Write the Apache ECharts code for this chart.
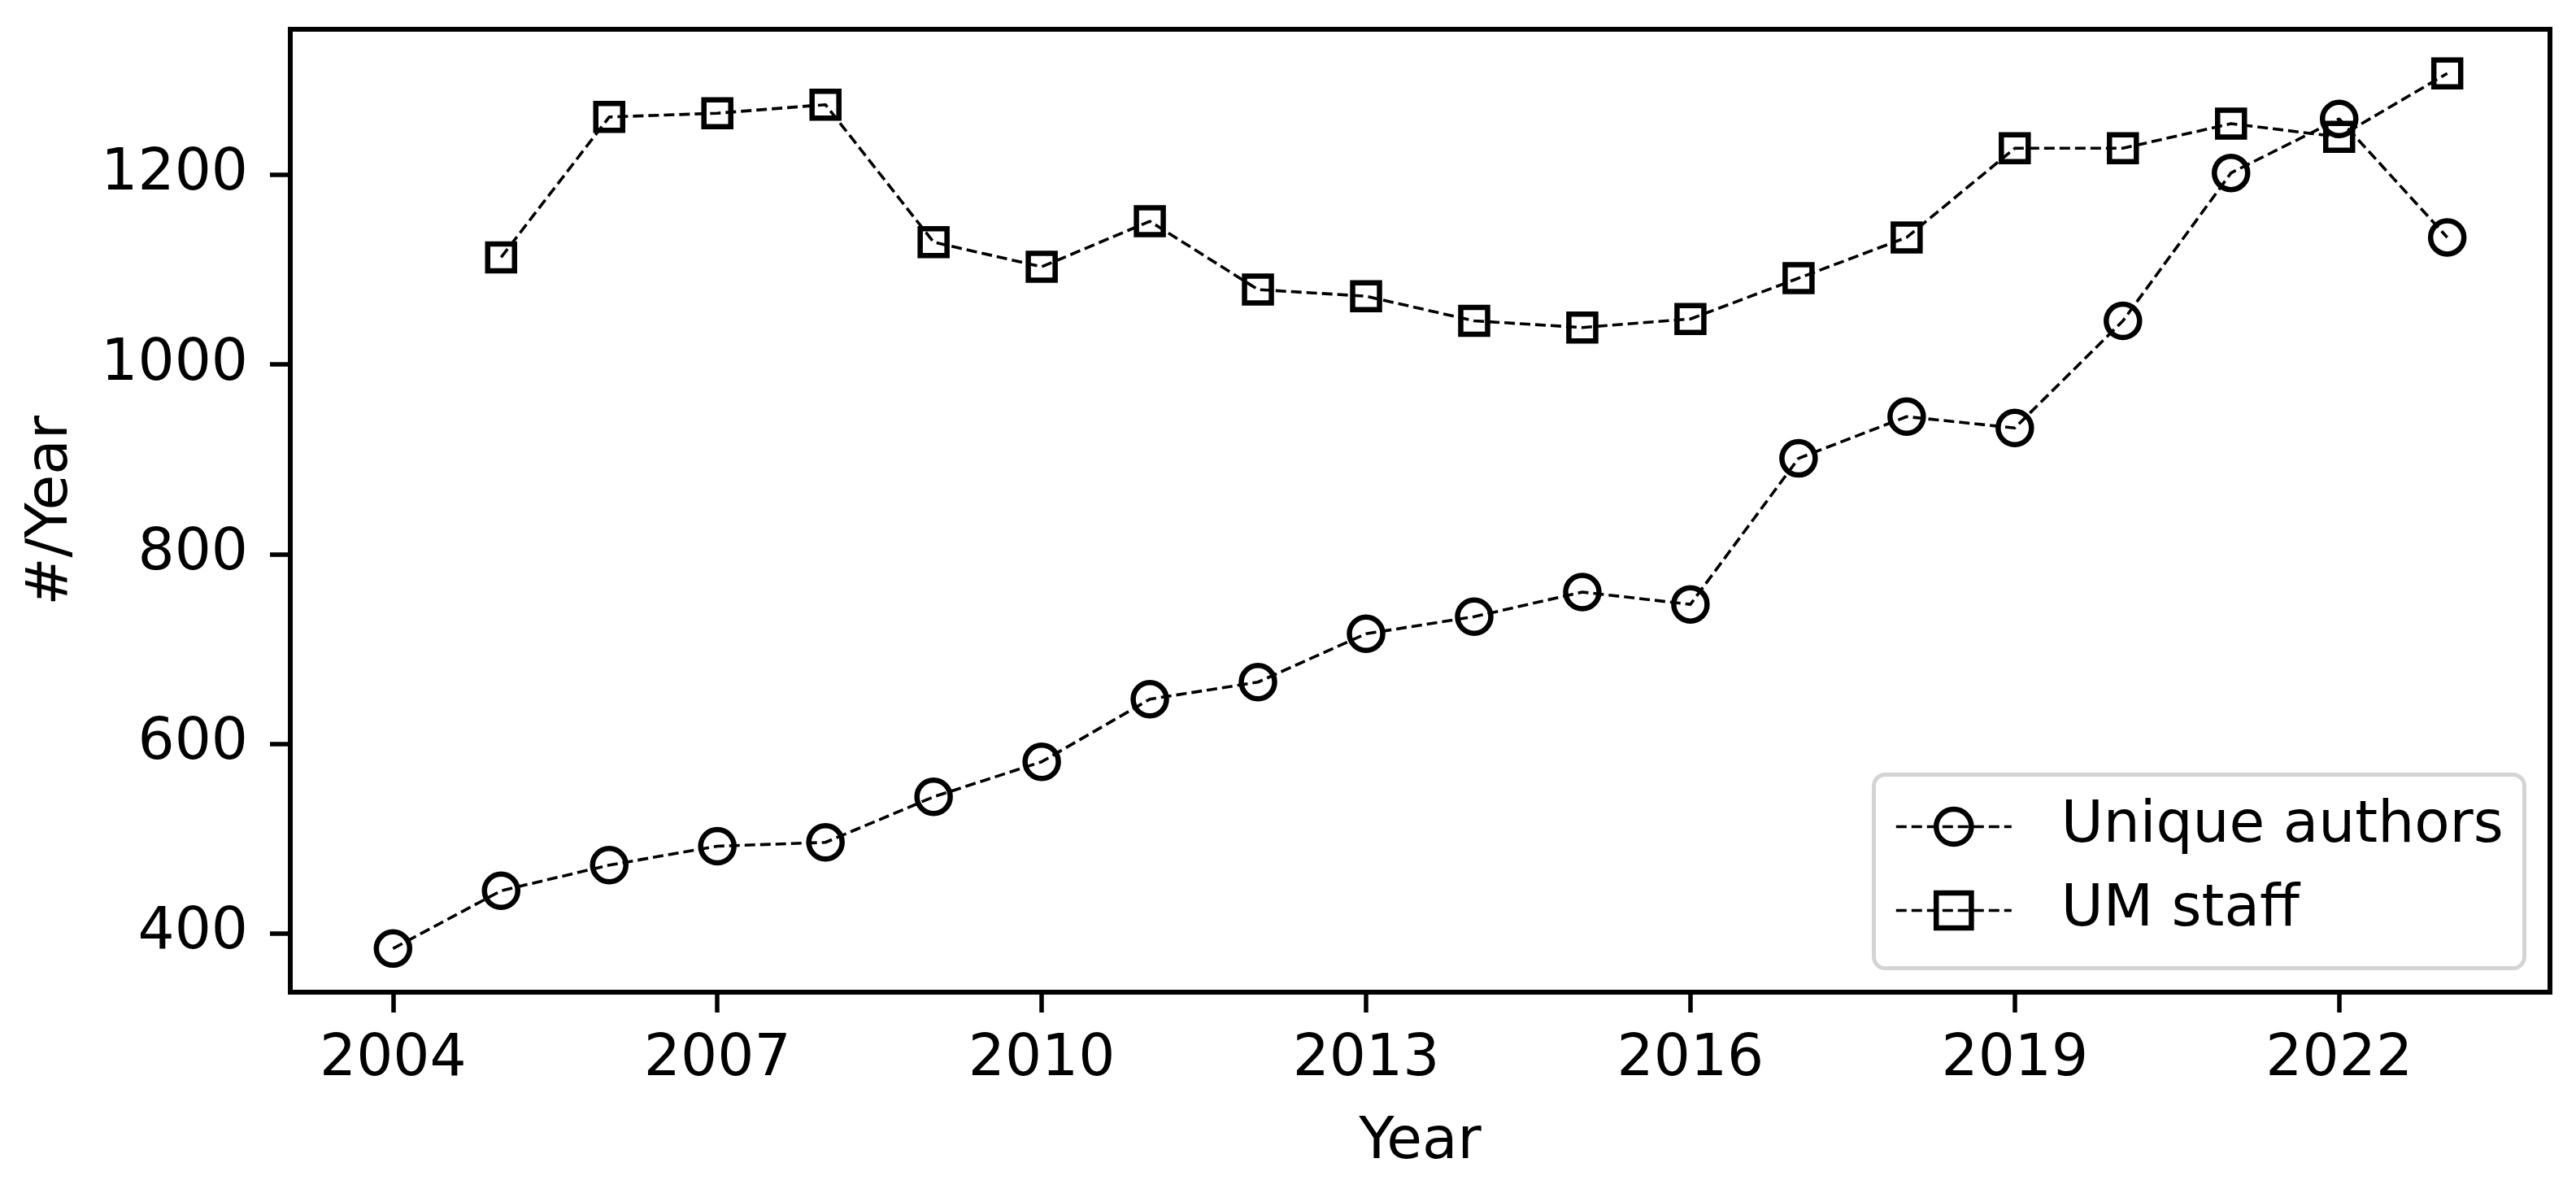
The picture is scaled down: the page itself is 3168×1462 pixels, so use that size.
<!DOCTYPE html>
<html>
<head>
<meta charset="utf-8">
<script src="https://cdn.jsdelivr.net/npm/echarts@6/dist/echarts.min.js"></script>
<style>
html,body{margin:0;padding:0;background:#fff;}
#chart{width:3168px;height:1462px;}
</style>
</head>
<body>
<div id="chart"></div>
<script>
const years = [2004,2005,2006,2007,2008,2009,2010,2011,2012,2013,2014,2015,2016,2017,2018,2019,2020,2021,2022,2023];
const uniqueAuthors = [384,445,472,492,496,544,581,647,665,716,734,760,747,901,945,933,1046,1202,1259,1134];
const umStaff = [null,1113,1261,1265,1274,1129,1103,1151,1079,1072,1046,1039,1048,1091,1134,1228,1228,1254,1240,1307];
const xTicks = [2004,2007,2010,2013,2016,2019,2022];
const yTicks = [400,600,800,1000,1200];
const seriesNames = ['Unique authors','UM staff'];
const xTitle = 'Year';
const yTitle = '#/Year';

const pairs = arr => years.map((y,i)=>[y, arr[i]]).filter(p => p[1] !== null);
const FONT = 'DejaVu Sans';
const FS = 71;

const chart = echarts.init(document.getElementById('chart'), null, {renderer:'canvas'});
const lineStyle = {color:'#000', width:3.6, type:[13,6]};
const markerStyle = {color:'rgba(0,0,0,0)', borderColor:'#000', borderWidth:6.5};
chart.setOption({
  animation:false,
  backgroundColor:'#fff',
  textStyle:{fontFamily:FONT, color:'#000'},
  grid:{left:357, right:32, top:36, bottom:242, show:true, borderColor:'#000', borderWidth:6, backgroundColor:'transparent'},
  xAxis:{
    type:'value', min:2003.05, max:2023.95,
    name:xTitle, nameLocation:'middle', nameGap:150,
    nameTextStyle:{fontSize:FS, fontFamily:FONT, color:'#000'},
    axisLine:{show:true, lineStyle:{color:'#000', width:6}},
    axisTick:{show:true, length:25, lineStyle:{color:'#000', width:5.5}, customValues:xTicks},
    axisLabel:{fontSize:FS, fontFamily:FONT, color:'#000', margin:48, customValues:xTicks, formatter:v=>String(v)},
    splitLine:{show:false}
  },
  yAxis:{
    type:'value', min:338, max:1353.5,
    name:yTitle, nameLocation:'middle', nameGap:258,
    nameTextStyle:{fontSize:FS, fontFamily:FONT, color:'#000'},
    axisLine:{show:true, lineStyle:{color:'#000', width:6}},
    axisTick:{show:true, length:25, lineStyle:{color:'#000', width:5.5}, customValues:yTicks},
    axisLabel:{fontSize:FS, fontFamily:FONT, color:'#000', margin:52, customValues:yTicks, formatter:v=>String(v)},
    splitLine:{show:false}
  },
  graphic:[{
    type:'rect', z:3, left:2302, top:950,
    shape:{width:800, height:238, r:14},
    style:{fill:'#fff', stroke:'#d4d4d4', lineWidth:5}
  }],
  legend:{
    z:10, orient:'vertical', left:2330, top:981, padding:0,
    itemWidth:142, itemHeight:54, itemGap:32,
    itemStyle:{color:'rgba(0,0,0,0)', borderColor:'#000', borderWidth:6.5},
    lineStyle:{color:'#000', width:3.6, type:[13,6]},
    textStyle:{fontSize:FS, fontFamily:FONT, color:'#000', padding:[0,0,0,56]},
    data:seriesNames
  },
  series:[
    {
      name:seriesNames[0], type:'line', data:pairs(uniqueAuthors),
      symbol:'circle', symbolSize:41,
      lineStyle:lineStyle,
      itemStyle:markerStyle,
      emphasis:{disabled:true}
    },
    {
      name:seriesNames[1], type:'line', data:pairs(umStaff),
      symbol:'rect', symbolSize:33,
      lineStyle:lineStyle,
      itemStyle:markerStyle,
      emphasis:{disabled:true}
    }
  ]
});
</script>
</body>
</html>
